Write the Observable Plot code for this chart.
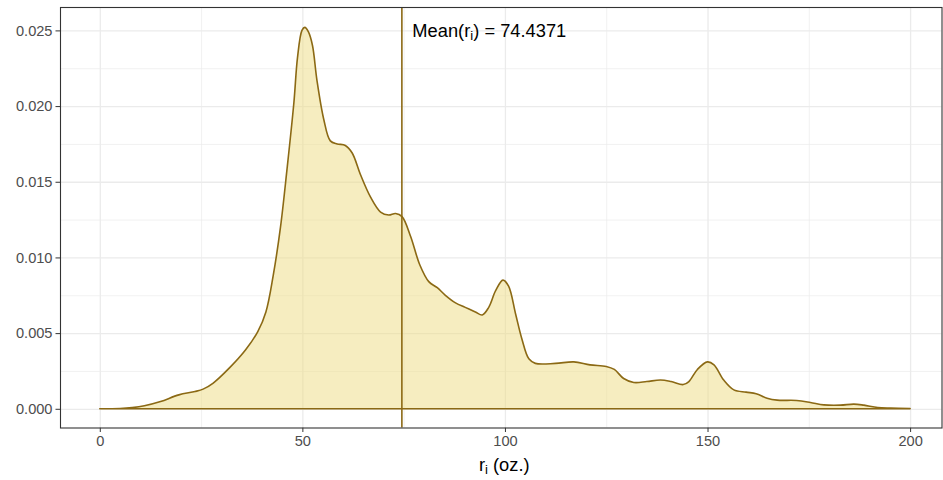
<!DOCTYPE html>
<html>
<head>
<meta charset="utf-8">
<script src="https://cdn.jsdelivr.net/npm/d3@7"></script>
<script src="https://cdn.jsdelivr.net/npm/@observablehq/plot@0.6"></script>
<style>
  html, body { margin: 0; padding: 0; background: #ffffff; }
  #chart svg { display: block; }
  #chart [aria-label="x-axis tick"], #chart [aria-label="y-axis tick"] { stroke: #333333; }
</style>
</head>
<body>
<div id="chart"></div>
<script>
// Kernel density estimate of ration weights r_i (oz.)
const weights = [0, 5, 8, 11, 15, 19.5, 23.5, 25.5, 28, 32, 36, 39, 41, 42.8, 44.6, 46.2, 47.9, 48.8, 49.9, 50.6, 51.5, 52.5, 53.6, 55.3, 56.9, 58.6, 60.6, 62.3, 64.3, 66.8, 69.3, 71.3, 73, 74.6, 76.7, 79, 81.2, 83.3, 85.3, 87.8, 90.2, 92.7, 94.4, 96, 97.7, 99.5, 100.9, 102.6, 104.2, 105.9, 107.5, 112.5, 117, 121, 125, 127, 129.3, 131.8, 135, 138.4, 141, 144, 145.4, 147.5, 150, 151.6, 154, 156.5, 159.5, 162, 164.7, 167.2, 172, 175.4, 178.7, 182.8, 186.1, 188.6, 192, 195.2, 200];
const density = [0, 0.00002, 0.00008, 0.0002, 0.00048, 0.00092, 0.00114, 0.0013, 0.0017, 0.0027, 0.0039, 0.0051, 0.0064, 0.0088, 0.0120, 0.0158, 0.0202, 0.0232, 0.0250, 0.0252, 0.0249, 0.0240, 0.0217, 0.0191, 0.0177, 0.0175, 0.0174, 0.0169, 0.0155, 0.0140, 0.0130, 0.0128, 0.0129, 0.0127, 0.0114, 0.0095, 0.0084, 0.0080, 0.0075, 0.0070, 0.0067, 0.0064, 0.0062, 0.0067, 0.0078, 0.0085, 0.0081, 0.0063, 0.0046, 0.0033, 0.0030, 0.0030, 0.0031, 0.0029, 0.0028, 0.0026, 0.0020, 0.00174, 0.0018, 0.0019, 0.0018, 0.0016, 0.0018, 0.0026, 0.0031, 0.0029, 0.0019, 0.00125, 0.0011, 0.0010, 0.0007, 0.00057, 0.00055, 0.00042, 0.00026, 0.00024, 0.00031, 0.00024, 0.00009, 0.00005, 0.00002];
const meanWeight = 74.4371;

const xTicks = [0, 50, 100, 150, 200];
const xMinor = [25, 75, 125, 175];
const yTicks = [0, 0.005, 0.010, 0.015, 0.020, 0.025];
const yMinor = [0.0025, 0.0075, 0.0125, 0.0175, 0.0225];

const curveData = weights.map((w, i) => ({ x: w, y: density[i] }));

const lineColor = "#8B6914";
const gridColor = "#EBEBEB";

const chart = Plot.plot({
  width: 943,
  height: 480,
  marginLeft: 60,
  marginRight: 1.5,
  marginTop: 7,
  marginBottom: 52.5,
  style: { fontFamily: "'Liberation Sans', Arial, sans-serif", fontSize: "14.6px", color: "#4D4D4D", background: "#ffffff" },
  x: { domain: [-9.82, 207.75], ticks: xTicks, tickSize: 4.5, tickPadding: 3.5, tickFormat: d3.format("d"), label: null },
  y: { domain: [-0.001236, 0.026546], ticks: yTicks, tickSize: 4.5, tickPadding: 3.5, tickFormat: d3.format(".3f"), label: null },
  marks: [
    Plot.ruleX(xMinor, { stroke: gridColor, strokeWidth: 0.7 }),
    Plot.ruleY(yMinor, { stroke: gridColor, strokeWidth: 0.7 }),
    Plot.ruleX(xTicks, { stroke: gridColor, strokeWidth: 1.3 }),
    Plot.ruleY(yTicks, { stroke: gridColor, strokeWidth: 1.3 }),
    Plot.areaY(curveData, { x: "x", y: "y", fill: "#EEDC82", fillOpacity: 0.5, stroke: lineColor, strokeWidth: 1.6, curve: "catmull-rom" }),
    Plot.ruleX([meanWeight], { stroke: lineColor, strokeWidth: 1.6 }),
    Plot.text([`Mean(ri) = ${meanWeight}`], { x: meanWeight, y: 0.025, dx: 10.5, textAnchor: "start", fill: "#000000", fontSize: 18.3, className: "mean-label" }),
    Plot.text(["ri (oz.)"], { frameAnchor: "bottom", dx: 3, dy: 42.5, fill: "#000000", fontSize: 18.3, className: "x-title" }),
    Plot.frame({ stroke: "#333333", strokeWidth: 1.1 })
  ]
});

document.getElementById("chart").appendChild(chart);

// Rebuild a label so that the "i" after "r" becomes a subscript
function subscriptI(textEl, before, after) {
  const t = d3.select(textEl);
  t.text(null);
  t.append("tspan").text(before + "r");
  t.append("tspan").attr("font-size", "0.72em").attr("dy", "0.28em").text("i");
  t.append("tspan").attr("dy", "-0.2em").text(after);
}

d3.select(chart).selectAll(".mean-label text").each(function () {
  subscriptI(this, "Mean(", `) = ${meanWeight}`);
});
d3.select(chart).selectAll(".x-title text").each(function () {
  subscriptI(this, "", " (oz.)");
});
</script>
</body>
</html>
